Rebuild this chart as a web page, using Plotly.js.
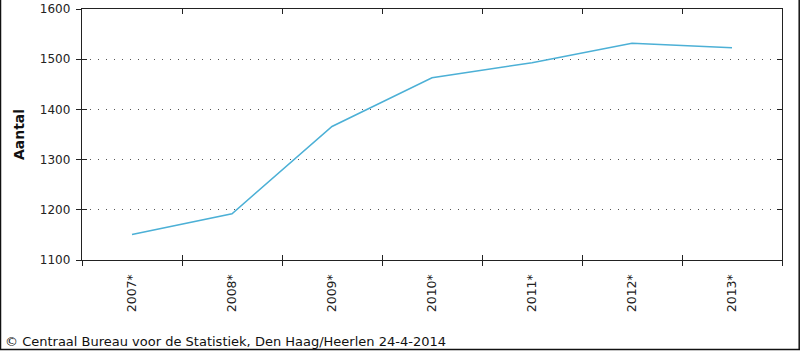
<!DOCTYPE html>
<html>
<head>
<meta charset="utf-8">
<script src="https://cdn.plot.ly/plotly-3.0.1.min.js"></script>
<style>
  html, body { margin: 0; padding: 0; background: #fff; }
  #chart { width: 800px; height: 351px; }
</style>
</head>
<body>
<div id="chart"></div>
<script>
const years = ["2007*", "2008*", "2009*", "2010*", "2011*", "2012*", "2013*"];
const aantal = [1151, 1192, 1366, 1463, 1493, 1532, 1523];
const yTicks = [1100, 1200, 1300, 1400, 1500, 1600];
const yAxisTitle = "Aantal";
const footer = "© Centraal Bureau voor de Statistiek, Den Haag/Heerlen 24-4-2014";

const W = 800, H = 351, L = 82, R = 18, T = 9, B = 91;
const pw = W - L - R, ph = H - T - B;
const px = x => (x - L) / pw;          // pixel -> paper x
const py = y => (H - B - y) / ph;      // pixel -> paper y

const font = "DejaVu Sans, Verdana, sans-serif";
const axisColor = "#222";

const trace = {
  x: years,
  y: aantal,
  type: "scatter",
  mode: "lines",
  line: { color: "rgb(76,176,214)", width: 1.5 },
  hoverinfo: "skip",
  showlegend: false
};

const layout = {
  width: W, height: H,
  margin: { l: L, r: R, t: T, b: B, pad: 0 },
  paper_bgcolor: "#fff",
  plot_bgcolor: "#fff",
  font: { family: font, size: 12, color: "#222" },
  xaxis: {
    type: "category",
    categoryorder: "array",
    categoryarray: years,
    range: [-0.5, 6.5],
    tickson: "boundaries",
    ticks: "inside",
    ticklen: 5,
    tickcolor: axisColor,
    tickwidth: 1,
    tickangle: -90,
    ticklabelstandoff: 8,
    showline: true,
    linecolor: axisColor,
    linewidth: 1.2,
    mirror: "ticks",
    showgrid: false,
    zeroline: false,
    fixedrange: true,
    tickfont: { family: font, size: 12.5, color: "#222" }
  },
  xaxis2: {
    overlaying: "x",
    side: "bottom",
    anchor: "y",
    type: "linear",
    range: [-0.5, 6.5],
    tickmode: "array",
    tickvals: [-0.5, 0.5, 1.5, 2.5, 3.5, 4.5, 5.5, 6.5],
    ticks: "outside",
    ticklen: 5,
    tickcolor: axisColor,
    showticklabels: false,
    showgrid: false,
    zeroline: false,
    showline: false
  },
  yaxis: {
    range: [1100, 1600],
    tickmode: "array",
    tickvals: yTicks,
    ticks: "inside",
    ticklen: 5,
    tickcolor: axisColor,
    showline: true,
    linecolor: axisColor,
    linewidth: 1.2,
    mirror: "ticks",
    showgrid: true,
    gridcolor: "#555",
    griddash: "1px,7px",
    gridwidth: 1,
    zeroline: false,
    fixedrange: true,
    ticklabelstandoff: 8,
    tickfont: { family: font, size: 12, color: "#222" },
    title: { text: yAxisTitle, font: { family: font, size: 14, color: "#111", weight: "bold" }, standoff: 12 }
  },
  yaxis2: {
    overlaying: "y",
    side: "left",
    anchor: "x",
    range: [1100, 1600],
    tickmode: "array",
    tickvals: yTicks,
    ticks: "outside",
    ticklen: 5,
    tickcolor: axisColor,
    showticklabels: false,
    showgrid: false,
    zeroline: false,
    showline: false
  },
  annotations: [{
    text: footer,
    xref: "paper", yref: "paper",
    x: px(3), y: py(341),
    xanchor: "left", yanchor: "middle",
    showarrow: false,
    font: { family: font, size: 13, color: "#111" }
  }],
  shapes: [
    { type: "line", xref: "paper", yref: "paper", x0: px(0.5), x1: px(0.5), y0: py(0), y1: py(350), line: { color: "#111", width: 1.5 } },
    { type: "line", xref: "paper", yref: "paper", x0: px(0), x1: px(800), y0: py(349.5), y1: py(349.5), line: { color: "#111", width: 1.5 } },
    { type: "line", xref: "paper", yref: "paper", x0: px(799.2), x1: px(799.2), y0: py(0), y1: py(350), line: { color: "#111", width: 1.5 } }
  ]
};

const dummyX2 = { x: [0], y: [1100], xaxis: "x2", yaxis: "y", type: "scatter", mode: "markers", marker: { opacity: 0 }, hoverinfo: "skip", showlegend: false };
const dummyY2 = { x: [years[0]], y: [1100], xaxis: "x", yaxis: "y2", type: "scatter", mode: "markers", marker: { opacity: 0 }, hoverinfo: "skip", showlegend: false };

Plotly.newPlot("chart", [dummyX2, dummyY2, trace], layout, { displayModeBar: false, staticPlot: true });
</script>
</body>
</html>
